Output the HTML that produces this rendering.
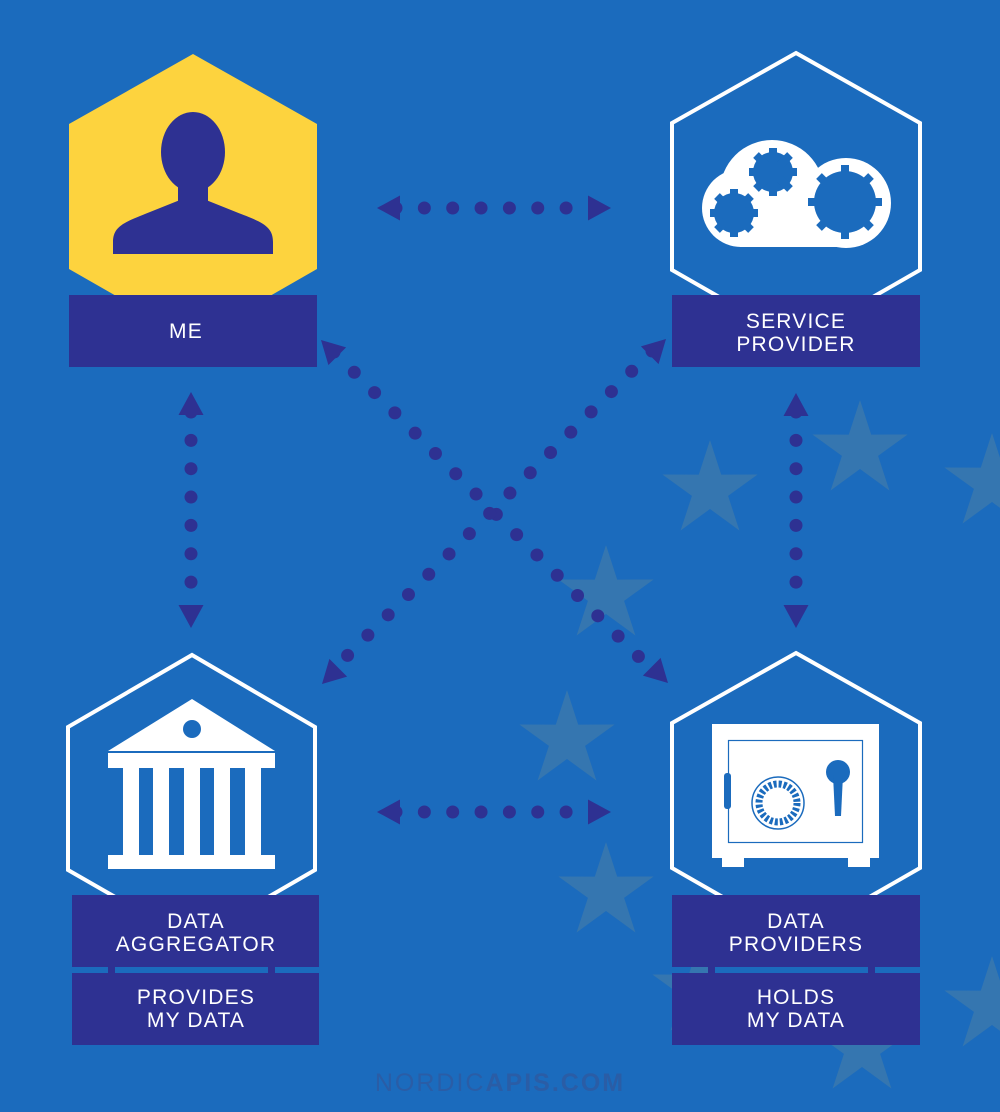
<!DOCTYPE html>
<html><head><meta charset="utf-8"><style>
html,body{margin:0;padding:0;background:#1b6bbd;}
svg{display:block}
text{font-family:"Liberation Sans",sans-serif;fill:#fff;font-size:21px;letter-spacing:1.2px;text-anchor:middle}
</style></head><body>
<svg width="1000" height="1112" viewBox="0 0 1000 1112" xmlns="http://www.w3.org/2000/svg">
<defs>
<polygon id="st" points="0,-50 11.2,-15.4 47.6,-15.5 18.1,5.9 29.4,40.5 0,19 -29.4,40.5 -18.1,5.9 -47.6,-15.5 -11.2,-15.4"/>
<polygon id="ar" points="0,0 -23,-12.5 -23,12.5"/>
</defs>
<rect width="1000" height="1112" fill="#1b6bbd"/>
<g fill="#3576b0">
<use href="#st" x="710" y="490"/><use href="#st" x="860" y="450"/><use href="#st" x="992" y="483"/>
<use href="#st" x="606" y="595"/><use href="#st" x="567" y="740"/><use href="#st" x="606" y="892"/>
<use href="#st" x="862" y="1048"/><use href="#st" x="992" y="1006"/><use href="#st" x="700" y="990"/>
</g>

<!-- connectors -->
<g stroke="#2e3192" stroke-width="13" stroke-linecap="round" stroke-dasharray="0 28.35" fill="none">
<line x1="396" y1="208" x2="580" y2="208"/>
<line x1="396" y1="812" x2="580" y2="812"/>
<line x1="191" y1="412" x2="191" y2="600"/>
<line x1="796" y1="412" x2="796" y2="600"/>
</g>
<g stroke="#2e3192" stroke-width="13" stroke-linecap="round" stroke-dasharray="0 28.7" fill="none">
<line x1="334" y1="352" x2="640" y2="658"/>
<line x1="652" y1="351" x2="346" y2="657"/>
</g>
<g fill="#2e3192">
<use href="#ar" transform="translate(611,208)"/><use href="#ar" transform="translate(377,208) rotate(180)"/>
<use href="#ar" transform="translate(611,812)"/><use href="#ar" transform="translate(377,812) rotate(180)"/>
<use href="#ar" transform="translate(191,392) rotate(-90)"/><use href="#ar" transform="translate(191,628) rotate(90)"/>
<use href="#ar" transform="translate(796,393) rotate(-90)"/><use href="#ar" transform="translate(796,628) rotate(90)"/>
<use href="#ar" transform="translate(321,340) rotate(-135)"/><use href="#ar" transform="translate(666,339) rotate(-45)"/>
<use href="#ar" transform="translate(322,684) rotate(135)"/><use href="#ar" transform="translate(668,683) rotate(45)"/>
</g>

<!-- hexagons -->
<polygon points="193,54 317,124 317,269 193,340 69,269 69,124" fill="#fdd33e"/>
<polygon points="796,53 920,123 920,270 796,341 672,270 672,123" fill="none" stroke="#fff" stroke-width="4"/>
<polygon points="192,655 315,727 315,870 192,941 68,870 68,727" fill="none" stroke="#fff" stroke-width="4"/>
<polygon points="796,653 920,723 920,868 796,939 672,868 672,723" fill="none" stroke="#fff" stroke-width="4"/>

<!-- person -->
<g fill="#2e3192">
<ellipse cx="193" cy="152" rx="32" ry="40"/>
<rect x="178" y="180" width="30" height="30"/>
<path d="M113,254 L113,242 C113,226 125,222 150,212 L180,200 L206,200 L236,212 C262,222 273,226 273,242 L273,254 Z"/>
</g>

<!-- cloud gears -->
<g fill="#fff">
<circle cx="741" cy="208" r="39"/><circle cx="772" cy="192" r="52"/><circle cx="846" cy="203" r="45"/>
<rect x="740" y="200" width="106" height="47"/>
</g>
<g fill="#1b6bbd">
<circle cx="734" cy="213" r="20"/><circle cx="773" cy="172" r="20"/><circle cx="845" cy="202" r="31"/>
<g stroke="#1b6bbd" stroke-width="8">
<path d="M734,189v48M710,213h48M717,196l34,34M717,230l34,-34"/>
<path d="M773,148v48M749,172h48M756,155l34,34M756,189l34,-34"/>
<path d="M845,165v74M808,202h74M819,176l52,52M819,228l52,-52"/>
</g>
</g>

<!-- bank -->
<g fill="#fff">
<polygon points="192,699 275,751 108,751"/>
<rect x="108" y="753" width="167" height="15"/>
<rect x="123" y="768" width="16" height="87"/><rect x="153" y="768" width="16" height="87"/>
<rect x="184" y="768" width="16" height="87"/><rect x="214" y="768" width="16" height="87"/>
<rect x="245" y="768" width="16" height="87"/>
<rect x="108" y="855" width="167" height="14"/>
</g>
<circle cx="192" cy="729" r="9" fill="#1b6bbd"/>

<!-- safe -->
<g fill="#fff">
<rect x="712" y="724" width="167" height="134"/>
<rect x="722" y="856" width="22" height="11"/><rect x="848" y="856" width="22" height="11"/>
</g>
<rect x="728.5" y="740.5" width="134" height="102" fill="none" stroke="#1b6bbd" stroke-width="1.2"/>
<rect x="724" y="773" width="7" height="36" rx="3" fill="#1b6bbd"/>
<circle cx="778" cy="803" r="26" fill="none" stroke="#1b6bbd" stroke-width="1.5"/>
<circle cx="778" cy="803" r="19" fill="none" stroke="#1b6bbd" stroke-width="7" stroke-dasharray="3 2"/>
<circle cx="838" cy="772" r="12" fill="#1b6bbd"/>
<polygon points="833,775 843,775 841,816 835,816" fill="#1b6bbd"/>

<!-- labels -->
<g fill="#2e3192">
<rect x="69" y="295" width="248" height="72"/>
<rect x="672" y="295" width="248" height="72"/>
<rect x="72" y="895" width="247" height="72"/><rect x="72" y="973" width="247" height="72"/>
<rect x="672" y="895" width="248" height="72"/><rect x="672" y="973" width="248" height="72"/>
<rect x="108" y="965" width="7" height="10"/><rect x="268" y="965" width="7" height="10"/>
<rect x="708" y="965" width="7" height="10"/><rect x="868" y="965" width="7" height="10"/>
</g>
<text x="186" y="338">ME</text>
<text x="796" y="328">SERVICE</text><text x="796" y="351">PROVIDER</text>
<text x="196" y="928">DATA</text><text x="196" y="951">AGGREGATOR</text>
<text x="196" y="1004">PROVIDES</text><text x="196" y="1027">MY DATA</text>
<text x="796" y="928">DATA</text><text x="796" y="951">PROVIDERS</text>
<text x="796" y="1004">HOLDS</text><text x="796" y="1027">MY DATA</text>

<text x="500" y="1091" style="font-size:25px;letter-spacing:2px;fill:#2a5da6"><tspan>NORDIC</tspan><tspan font-weight="bold">APIS.COM</tspan></text>
</svg>
</body></html>
